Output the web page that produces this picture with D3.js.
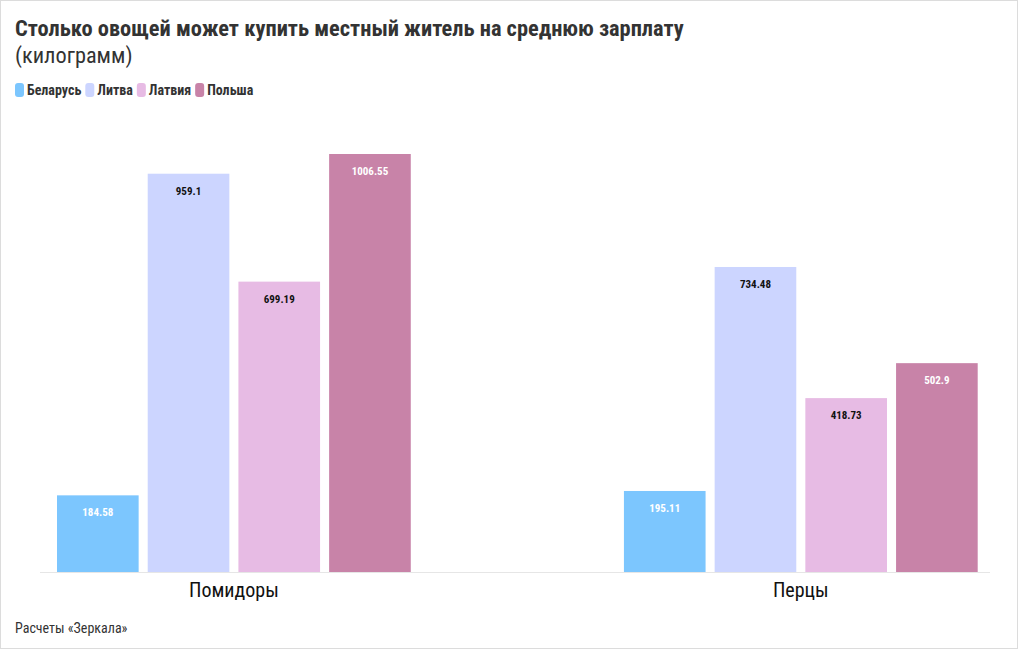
<!DOCTYPE html>
<html>
<head>
<meta charset="utf-8">
<script src="https://cdn.jsdelivr.net/npm/d3@7"></script>
<style>
  body { margin: 0; background: #fff; }
  svg { display: block; font-family: "Roboto Condensed", "Liberation Sans Narrow", "DejaVu Sans Condensed", sans-serif; }
</style>
</head>
<body>
<div id="chart"></div>
<script>
const categories = ["Помидоры", "Перцы"];
const countries = ["Беларусь", "Литва", "Латвия", "Польша"];
const colors = ["#7cc6fe", "#ccd5ff", "#e7bbe4", "#c883a8"];
const labelColors = ["#fff", "#111", "#111", "#fff"];
// kg per average salary, by category, in country order
const values = [
  [184.58, 959.1, 699.19, 1006.55],
  [195.11, 734.48, 418.73, 502.9]
];

const width = 1020, height = 650;
const svg = d3.select("#chart").append("svg")
  .attr("width", width)
  .attr("height", height);

svg.append("rect")
  .attr("x", 0.5).attr("y", 0.5)
  .attr("width", width - 3).attr("height", height - 2)
  .attr("fill", "#fff")
  .attr("stroke", "#dcdcdc");

svg.append("text")
  .attr("x", 15).attr("y", 36)
  .attr("font-size", 22.4).attr("font-weight", "bold").attr("fill", "#333")
  .text("Столько овощей может купить местный житель на среднюю зарплату");

svg.append("text")
  .attr("x", 15).attr("y", 63)
  .attr("font-size", 22.3).attr("fill", "#333")
  .text("(килограмм)");

// legend
let lx = 15;
countries.forEach((c, i) => {
  const g = svg.append("g").attr("transform", `translate(${lx},83)`);
  g.append("rect").attr("width", 9).attr("height", 14).attr("rx", 3)
    .attr("fill", colors[i]);
  const t = g.append("text").attr("x", 12).attr("y", 12)
    .attr("font-size", 14).attr("font-weight", "bold").attr("fill", "#333")
    .text(c);
  lx += 12 + t.node().getComputedTextLength() + 4;
});

const baseY = 572;
const y = d3.scaleLinear().domain([0, 1100]).range([baseY, baseY - 1100 * 418 / 1006.55]);

const x0 = d3.scaleBand().domain(categories).range([57, 977.7])
  .paddingInner(0.376).paddingOuter(0);
const x1 = d3.scaleBand().domain(countries).range([0, x0.bandwidth()])
  .paddingInner(0.1).paddingOuter(0);

// axis line
svg.append("line")
  .attr("x1", 40).attr("x2", 990)
  .attr("y1", baseY + 0.5).attr("y2", baseY + 0.5)
  .attr("stroke", "#e6e6e6");

const groups = svg.selectAll("g.grp")
  .data(categories)
  .enter().append("g")
  .attr("class", "grp")
  .attr("transform", d => `translate(${x0(d)},0)`);

groups.selectAll("rect")
  .data((d, gi) => countries.map((c, i) => ({ c, i, v: values[gi][i] })))
  .enter().append("rect")
  .attr("x", d => x1(d.c))
  .attr("y", d => y(d.v))
  .attr("width", x1.bandwidth())
  .attr("height", d => baseY - y(d.v))
  .attr("fill", d => colors[d.i]);

groups.selectAll("text.val")
  .data((d, gi) => countries.map((c, i) => ({ c, i, v: values[gi][i] })))
  .enter().append("text")
  .attr("class", "val")
  .attr("x", d => x1(d.c) + x1.bandwidth() / 2)
  .attr("y", d => y(d.v) + 21)
  .attr("text-anchor", "middle")
  .attr("font-size", 11).attr("font-weight", "bold")
  .attr("fill", d => labelColors[d.i])
  .text(d => d.v);

groups.append("text")
  .attr("x", x0.bandwidth() / 2)
  .attr("y", 597)
  .attr("text-anchor", "middle")
  .attr("font-size", 20).attr("fill", "#111")
  .text(d => d);

svg.append("text")
  .attr("x", 15).attr("y", 633)
  .attr("font-size", 14).attr("fill", "#333")
  .text("Расчеты «Зеркала»");
</script>
</body>
</html>
